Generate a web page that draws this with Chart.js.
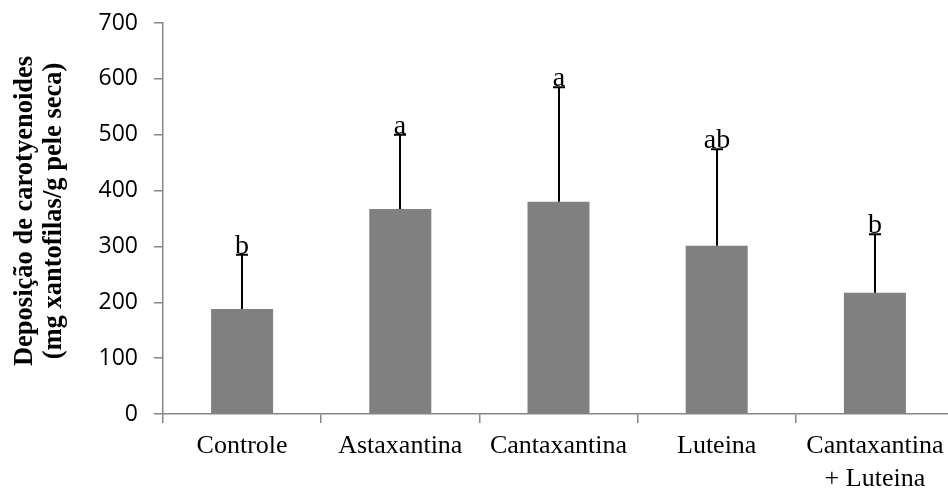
<!DOCTYPE html>
<html>
<head>
<meta charset="utf-8">
<script src="https://cdn.jsdelivr.net/npm/chart.js@4/dist/chart.umd.min.js"></script>
<style>
  html, body { margin: 0; padding: 0; background: #fff; overflow: hidden; }
  #wrap { width: 960px; height: 488px; }
</style>
</head>
<body>
<div id="wrap"><canvas id="chart" width="960" height="488"></canvas></div>
<script>
const categories = ["Controle", "Astaxantina", "Cantaxantina", "Luteina", ["Cantaxantina", "+ Luteina"]];
const means = [188, 367, 380, 301, 217];
const errors = [97, 133, 205, 173, 105];
const letters = ["b", "a", "a", "ab", "b"];
const yMin = 0, yMax = 700, yStep = 100;
const yTitleLines = ["Deposição de carotyenoides", "(mg xantofilas/g pele seca)"];

const axisGray = "#868686";

// upward error bars + significance letters
const errorBarPlugin = {
  id: "errorBars",
  afterDatasetsDraw(chart) {
    const ctx = chart.ctx;
    const yScale = chart.scales.y;
    const meta = chart.getDatasetMeta(0);
    ctx.save();
    ctx.strokeStyle = "#000";
    ctx.lineWidth = 2;
    ctx.fillStyle = "#000";
    ctx.font = "28px 'Liberation Serif'";
    ctx.textAlign = "center";
    ctx.textBaseline = "alphabetic";
    meta.data.forEach((bar, i) => {
      const x = Math.round(bar.x);
      const top = yScale.getPixelForValue(means[i] + errors[i]);
      ctx.beginPath();
      ctx.moveTo(x, bar.y);
      ctx.lineTo(x, top);
      ctx.moveTo(x - 6, top);
      ctx.lineTo(x + 6, top);
      ctx.stroke();
      ctx.fillText(letters[i], x, top - 1);
    });
    ctx.restore();
  }
};

// two-line bold y-axis title
const yTitlePlugin = {
  id: "yTitle",
  afterDraw(chart) {
    const ctx = chart.ctx;
    ctx.save();
    ctx.font = "bold 26.5px 'Liberation Serif'";
    ctx.fillStyle = "#000";
    ctx.textAlign = "center";
    ctx.textBaseline = "alphabetic";
    yTitleLines.forEach((line, i) => {
      ctx.save();
      ctx.translate(32 + i * 29, 211);
      ctx.rotate(-Math.PI / 2);
      ctx.fillText(line, 0, 0);
      ctx.restore();
    });
    ctx.restore();
  }
};

new Chart(document.getElementById("chart"), {
  type: "bar",
  data: {
    labels: categories,
    datasets: [{
      data: means,
      backgroundColor: "#808080",
      categoryPercentage: 1,
      barPercentage: 0.392
    }]
  },
  options: {
    responsive: false,
    animation: false,
    layout: { padding: { top: 23, right: 6, left: 0, bottom: 0 } },
    plugins: {
      legend: { display: false },
      tooltip: { enabled: false }
    },
    scales: {
      x: {
        grid: { offset: true, drawOnChartArea: false, tickLength: 9, color: axisGray, lineWidth: 1.5 },
        border: { color: axisGray, width: 1.5 },
        ticks: {
          color: "#000",
          font: { family: "'Liberation Serif'", size: 26, lineHeight: 1.25 },
          padding: 7,
          maxRotation: 0,
          autoSkip: false
        },
        afterFit(scale) {
          scale.height = 74;
          scale.paddingLeft = 0;
          scale.paddingRight = 0;
        }
      },
      y: {
        min: yMin,
        max: yMax,
        grid: { drawOnChartArea: false, tickLength: 9, color: axisGray, lineWidth: 1.5 },
        border: { color: axisGray, width: 1.5 },
        ticks: {
          stepSize: yStep,
          color: "#000",
          font: { family: "'Open Sans'", size: 23 },
          padding: 16
        },
        afterFit(scale) {
          scale.width = 163;
          scale.paddingTop = 0;
          scale.paddingBottom = 0;
        }
      }
    }
  },
  plugins: [errorBarPlugin, yTitlePlugin]
});
</script>
</body>
</html>
